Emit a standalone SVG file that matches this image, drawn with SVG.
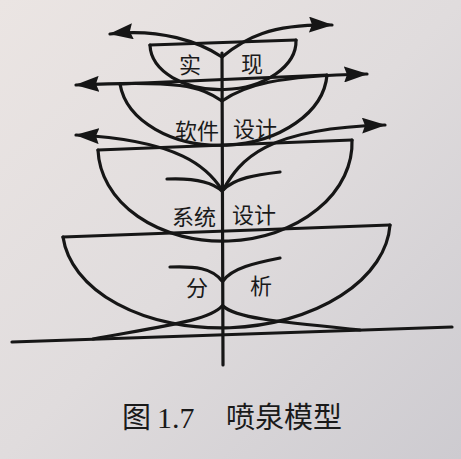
<svg xmlns="http://www.w3.org/2000/svg" width="461" height="459" viewBox="0 0 461 459">
<defs>
<linearGradient id="bg" x1="0" y1="0" x2="1" y2="1">
<stop offset="0" stop-color="#ebe5e3"/>
<stop offset="0.5" stop-color="#e0dcdd"/>
<stop offset="1" stop-color="#cdcbd0"/>
</linearGradient>
<marker id="ah" viewBox="0 0 24 16" refX="23" refY="8" markerWidth="24" markerHeight="16" markerUnits="userSpaceOnUse" orient="auto">
<path d="M0,0 L24,8 L0,16 L3,8 Z" fill="#161616"/>
</marker>
<style>
.ln{fill:none;stroke:#161616;stroke-width:3.2;stroke-linecap:round}
.ar{fill:none;stroke:#161616;stroke-width:3.2;stroke-linecap:round;marker-end:url(#ah)}
.lb{font-family:"Noto Sans CJK SC","Noto Sans CJK JP",sans-serif;font-size:22px;fill:#1a1a1a}
.cap{font-family:"Noto Sans CJK SC","Noto Sans CJK JP",sans-serif;font-size:29px;fill:#1a1a1a}
.num{font-family:"Liberation Serif",serif;font-size:30px;fill:#1a1a1a}
</style>
</defs>
<rect width="461" height="459" fill="url(#bg)"/>

<g id="trunk">
<line class="ln" x1="222" y1="53" x2="223" y2="365"/>
</g>
<g id="ground">
<line class="ln" x1="12" y1="342" x2="452" y2="327"/>
</g>

<g id="bowl-implementation">
<path class="ln" d="M150,45 L296,40"/>
<path class="ln" d="M150,45 A73,47 -2 0 0 296,40"/>
<text class="lb" x="179" y="73">实</text>
<text class="lb" x="241" y="72">现</text>
</g>

<g id="bowl-software-design">
<path class="ln" d="M120,84 L327,75"/>
<path class="ln" d="M120,84 A104,72 -2.5 0 0 327,75"/>
<text class="lb" x="175" y="139">软件</text>
<text class="lb" x="233" y="137">设计</text>
</g>

<g id="bowl-system-design">
<path class="ln" d="M98,150 L352,140"/>
<path class="ln" d="M98,150 A127,96 -2.3 0 0 352,140"/>
<text class="lb" x="172" y="225">系统</text>
<text class="lb" x="232" y="223">设计</text>
</g>

<g id="bowl-analysis">
<path class="ln" d="M63,237 L390,225"/>
<path class="ln" d="M63,237 A164,104 -2.1 0 0 390,225"/>
<text class="lb" x="186" y="296">分</text>
<text class="lb" x="250" y="294">析</text>
</g>

<g id="connectors">
<path class="ar" d="M222,57 C200,42 160,28 110,34"/>
<path class="ar" d="M222,57 C245,38 270,24 332,25"/>
<path class="ar" d="M222,101 C200,86 180,80 76,85"/>
<path class="ar" d="M222,101 C245,85 275,76 367,74"/>
<path class="ar" d="M222,190 C208,168 180,140 76,135"/>
<path class="ar" d="M223,190 C240,160 265,128 385,125"/>
<path class="ln" d="M167,179 C190,178 210,180 222,191"/>
<path class="ln" d="M280,172 C255,175 235,178 223,190"/>
<path class="ln" d="M170,267 C195,266 212,268 222,281"/>
<path class="ln" d="M280,258 C255,263 232,268 223,281"/>
<path class="ln" d="M222,306 C210,320 170,325 93,339"/>
<path class="ln" d="M223,306 C235,318 280,322 360,330"/>
</g>

<g id="caption">
<text class="cap" x="122" y="428">图</text>
<text class="num" x="157" y="428">1.7</text>
<text class="cap" x="226" y="428">喷泉模型</text>
</g>
</svg>
